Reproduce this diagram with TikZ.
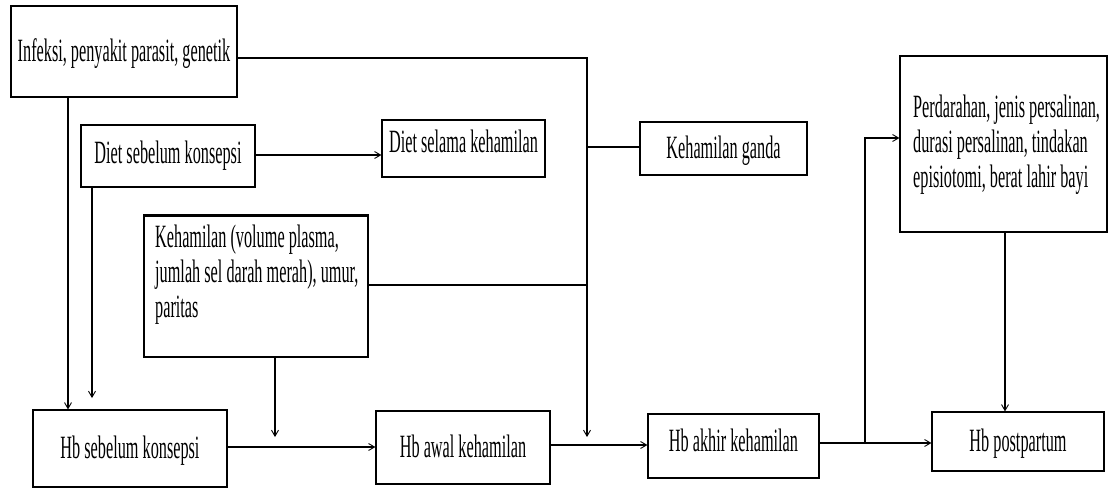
\documentclass[tikz,border=0pt]{standalone}
\usepackage{fontspec}
\setmainfont{Liberation Serif}[FakeStretch=0.50]
\usetikzlibrary{arrows.meta}
\begin{document}
\begin{tikzpicture}[x=1pt,y=-1pt,
  box/.style={draw,line width=1.2pt,inner sep=0pt,text height=21pt,text depth=1pt},
  txt/.style={inner sep=0pt,align=left,anchor=north west},
  conn/.style={line width=1.1pt},
  arr/.style={conn,-{Straight Barb[length=6pt,width=7pt,line width=0.9pt]}},
  every node/.style={font=\fontsize{32.5}{35}\selectfont}]
\useasboundingbox (0,0) rectangle (1111,488);
% boxes
\node[box,minimum width=226pt,minimum height=91pt] (inf) at (124,51.5) {Infeksi, penyakit parasit, genetik};
\node[box,minimum width=174pt,minimum height=62pt,text depth=7pt] (dsk) at (168,156) {Diet sebelum konsepsi};
\node[box,minimum width=163pt,minimum height=57pt,text depth=13pt] (dsl) at (463.5,148.5) {Diet selama kehamilan};
\node[box,minimum width=167pt,minimum height=53pt] (kg) at (723.5,148.5) {Kehamilan ganda};
\node[box,minimum width=224pt,minimum height=141pt] (keh) at (256,286.5) {};
\draw[line width=3pt] (keh.north west) -- (keh.north east);
\node[txt] (kehT) at (155,225) {Kehamilan (volume plasma,\\jumlah sel darah merah), umur,\\paritas};
\node[box,minimum width=207pt,minimum height=176pt] (perd) at (1003.5,144) {};
\node[txt] (perdT) at (913,95) {Perdarahan, jenis persalinan,\\durasi persalinan, tindakan\\episiotomi, berat lahir bayi};
\node[box,minimum width=194pt,minimum height=77pt] (hbs) at (130,448.5) {Hb sebelum konsepsi};
\node[box,minimum width=174pt,minimum height=73pt] (hba) at (463,447.5) {Hb awal kehamilan};
\node[box,minimum width=171pt,minimum height=64pt,text depth=11pt] (hbk) at (733.5,446) {Hb akhir kehamilan};
\node[box,minimum width=172pt,minimum height=59pt] (hbp) at (1018,441.5) {Hb postpartum};
% helper coordinates
\coordinate (y58) at (0,58);
\coordinate (y147) at (0,147);
\coordinate (y285) at (0,285);
\coordinate (y155) at (0,155);
\coordinate (y447) at (0,447);
\coordinate (y445) at (0,445);
\coordinate (y443) at (0,443);
\coordinate (y138) at (0,138);
\coordinate (x587) at (587,0);
\coordinate (x68) at (68,0);
\coordinate (x92) at (92,0);
\coordinate (x275) at (275,0);
\coordinate (x1005) at (1005,0);
\coordinate (jd) at (587,437);
\coordinate (d5) at (92,398);
\coordinate (k7) at (275,437);
\coordinate (jp) at (865,443);
% connectors
\draw[arr] (inf.east |- y58) -| (jd);
\draw[conn] (kg.west |- y147) -- (x587 |- y147);
\draw[conn] (keh.east |- y285) -- (x587 |- y285);
\draw[arr] (inf.south -| x68) -- (hbs.north -| x68);
\draw[arr] (dsk.south -| x92) -- (d5);
\draw[arr] (dsk.east |- y155) -- (dsl.west |- y155);
\draw[arr] (keh.south -| x275) -- (k7);
\draw[arr] (hbs.east |- y447) -- (hba.west |- y447);
\draw[arr] (hba.east |- y445) -- (hbk.west |- y445);
\draw[arr] (hbk.east |- y443) -- (hbp.west |- y443);
\draw[arr] (jp) |- (perd.west |- y138);
\draw[arr] (perd.south -| x1005) -- (hbp.north -| x1005);
\end{tikzpicture}
\end{document}
